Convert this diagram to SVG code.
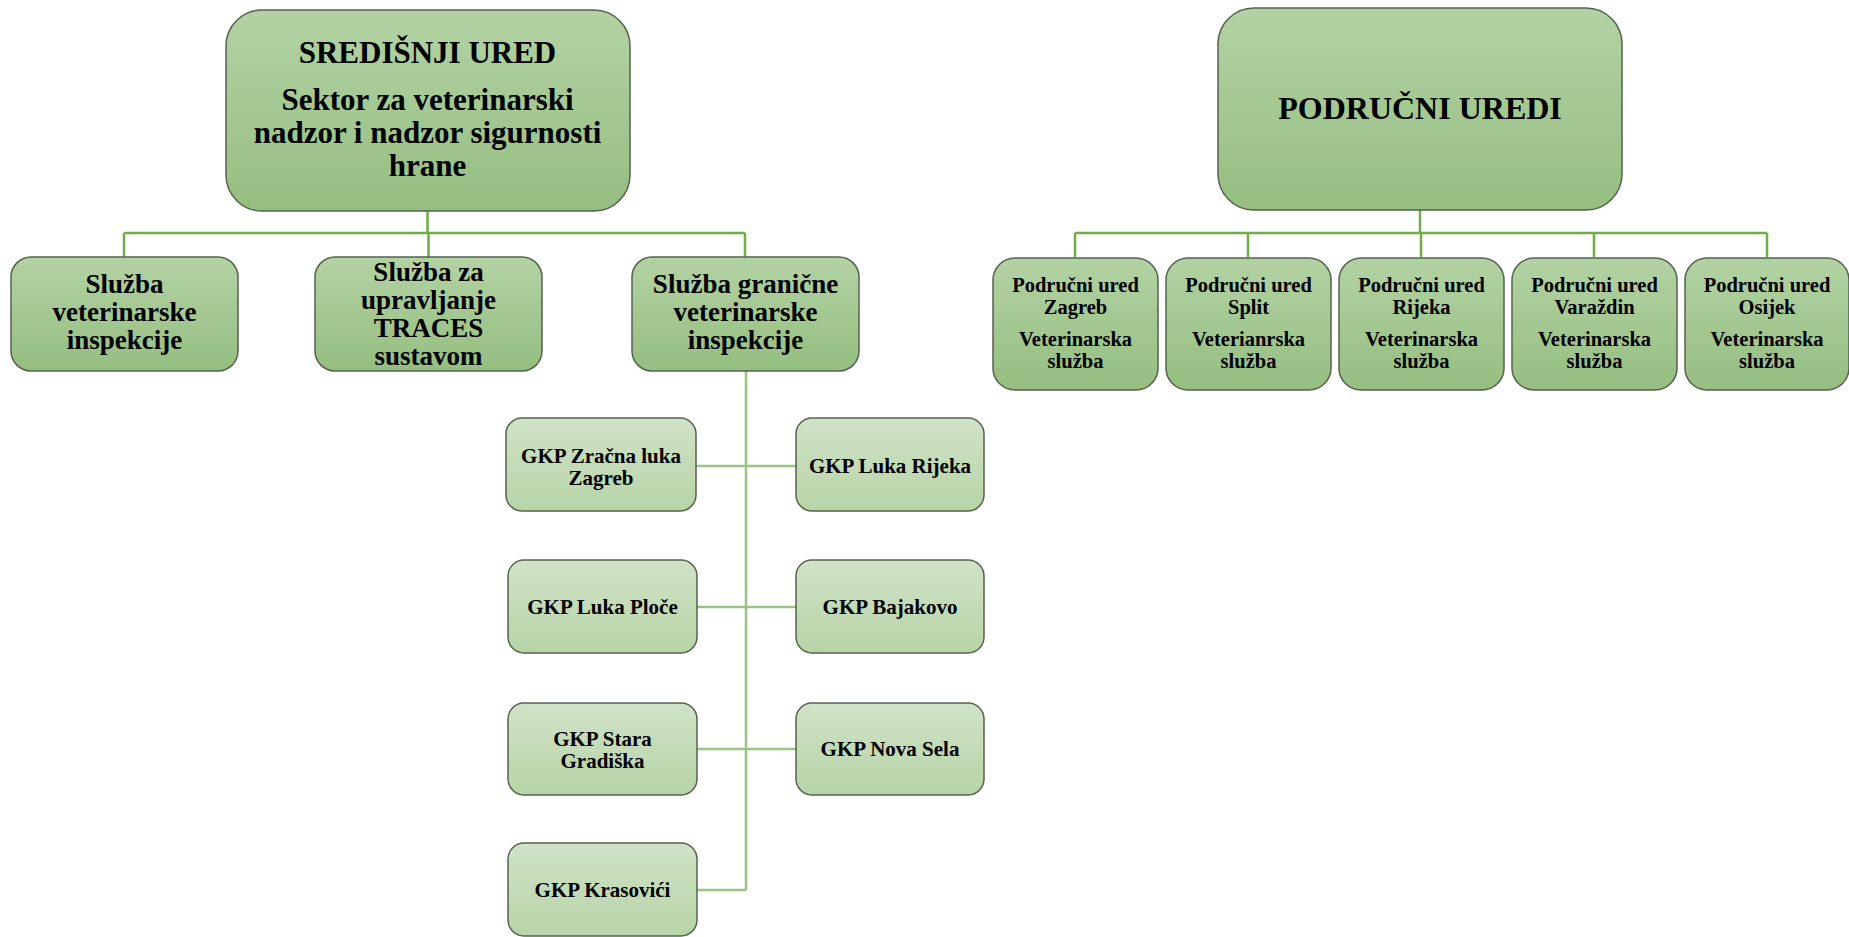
<svg xmlns="http://www.w3.org/2000/svg" width="1849" height="937" viewBox="0 0 1849 937">
<defs>
<linearGradient id="gMain" x1="0" y1="0" x2="0" y2="1">
<stop offset="0" stop-color="#b3d2a4"/>
<stop offset="1" stop-color="#95be80"/>
</linearGradient>
<linearGradient id="gLight" x1="0" y1="0" x2="0" y2="1">
<stop offset="0" stop-color="#d0e2c7"/>
<stop offset="1" stop-color="#b7d4a8"/>
</linearGradient>
<style>
.box{fill:url(#gMain);stroke:#56614f;stroke-width:1.5}
.gkp{fill:url(#gLight);stroke:#56614f;stroke-width:1.5}
.t{font-family:"Liberation Serif","Times New Roman",serif;font-weight:bold;fill:#000;text-anchor:middle}
.t31{font-size:31px}
.t32{font-size:32px}
.t27{font-size:27px}
.t20{font-size:20.5px}
.t21{font-size:21px}
.c1{stroke:#70ad47;stroke-width:2.5;fill:none}
.c2{stroke:#9cc385;stroke-width:2.5;fill:none}
</style>
</defs>
<rect width="1849" height="937" fill="#ffffff"/>

<g id="connectors">
<path class="c1" d="M427.5 211V233M124 233H745M124 233V257M428.5 233V257M745 233V257"/>
<path class="c1" d="M1420 210V233M1075 233H1767M1075 233V257M1248 233V257M1421 233V257M1594 233V257M1767 233V257"/>
<path class="c2" d="M746 371V890M696 466H796M697 607H796M697 749H796M697 890H746"/>
</g>

<g id="sredisnji-ured">
<rect class="box" x="226" y="10" width="404" height="201" rx="36"/>
<text class="t t31" x="427.5" y="63">SREDIŠNJI URED</text>
<text class="t t31" x="427.5" y="110">Sektor za veterinarski</text>
<text class="t t31" x="427.5" y="143">nadzor i nadzor sigurnosti</text>
<text class="t t31" x="427.5" y="176">hrane</text>
</g>

<g id="sluzba-vet-insp">
<rect class="box" x="11" y="257" width="227" height="114" rx="20"/>
<text class="t t27" x="124.5" y="293">Služba</text>
<text class="t t27" x="124.5" y="321">veterinarske</text>
<text class="t t27" x="124.5" y="349">inspekcije</text>
</g>

<g id="sluzba-traces">
<rect class="box" x="315" y="257" width="227" height="114" rx="20"/>
<text class="t t27" x="428.5" y="281">Služba za</text>
<text class="t t27" x="428.5" y="309">upravljanje</text>
<text class="t t27" x="428.5" y="337">TRACES</text>
<text class="t t27" x="428.5" y="365">sustavom</text>
</g>

<g id="sluzba-granicne">
<rect class="box" x="632" y="257" width="227" height="114" rx="20"/>
<text class="t t27" x="745.5" y="293">Služba granične</text>
<text class="t t27" x="745.5" y="321">veterinarske</text>
<text class="t t27" x="745.5" y="349">inspekcije</text>
</g>

<g id="podrucni-uredi">
<rect class="box" x="1218" y="8" width="404" height="202" rx="36"/>
<text class="t t32" x="1420" y="119">PODRUČNI UREDI</text>
</g>

<g id="pu-zagreb">
<rect class="box" x="993" y="258" width="165" height="132" rx="22"/>
<text class="t t20" x="1075.5" y="292">Područni ured</text>
<text class="t t20" x="1075.5" y="314">Zagreb</text>
<text class="t t20" x="1075.5" y="346">Veterinarska</text>
<text class="t t20" x="1075.5" y="368">služba</text>
</g>

<g id="pu-split">
<rect class="box" x="1166" y="258" width="165" height="132" rx="22"/>
<text class="t t20" x="1248.5" y="292">Područni ured</text>
<text class="t t20" x="1248.5" y="314">Split</text>
<text class="t t20" x="1248.5" y="346">Veterianrska</text>
<text class="t t20" x="1248.5" y="368">služba</text>
</g>

<g id="pu-rijeka">
<rect class="box" x="1339" y="258" width="165" height="132" rx="22"/>
<text class="t t20" x="1421.5" y="292">Područni ured</text>
<text class="t t20" x="1421.5" y="314">Rijeka</text>
<text class="t t20" x="1421.5" y="346">Veterinarska</text>
<text class="t t20" x="1421.5" y="368">služba</text>
</g>

<g id="pu-varazdin">
<rect class="box" x="1512" y="258" width="165" height="132" rx="22"/>
<text class="t t20" x="1594.5" y="292">Područni ured</text>
<text class="t t20" x="1594.5" y="314">Varaždin</text>
<text class="t t20" x="1594.5" y="346">Veterinarska</text>
<text class="t t20" x="1594.5" y="368">služba</text>
</g>

<g id="pu-osijek">
<rect class="box" x="1685" y="258" width="164" height="132" rx="22"/>
<text class="t t20" x="1767" y="292">Područni ured</text>
<text class="t t20" x="1767" y="314">Osijek</text>
<text class="t t20" x="1767" y="346">Veterinarska</text>
<text class="t t20" x="1767" y="368">služba</text>
</g>

<g id="gkp-zracna-luka-zagreb">
<rect class="gkp" x="506" y="418" width="190" height="93" rx="16"/>
<text class="t t21" x="601" y="463">GKP Zračna luka</text>
<text class="t t21" x="601" y="485">Zagreb</text>
</g>

<g id="gkp-luka-rijeka">
<rect class="gkp" x="796" y="418" width="188" height="93" rx="16"/>
<text class="t t21" x="890" y="473">GKP Luka Rijeka</text>
</g>

<g id="gkp-luka-ploce">
<rect class="gkp" x="508" y="560" width="189" height="93" rx="16"/>
<text class="t t21" x="602.5" y="614">GKP Luka Ploče</text>
</g>

<g id="gkp-bajakovo">
<rect class="gkp" x="796" y="560" width="188" height="93" rx="16"/>
<text class="t t21" x="890" y="614">GKP Bajakovo</text>
</g>

<g id="gkp-stara-gradiska">
<rect class="gkp" x="508" y="703" width="189" height="92" rx="16"/>
<text class="t t21" x="602.5" y="746">GKP Stara</text>
<text class="t t21" x="602.5" y="768">Gradiška</text>
</g>

<g id="gkp-nova-sela">
<rect class="gkp" x="796" y="703" width="188" height="92" rx="16"/>
<text class="t t21" x="890" y="756">GKP Nova Sela</text>
</g>

<g id="gkp-krasovici">
<rect class="gkp" x="508" y="843" width="189" height="93" rx="16"/>
<text class="t t21" x="602.5" y="897">GKP Krasovići</text>
</g>
</svg>
